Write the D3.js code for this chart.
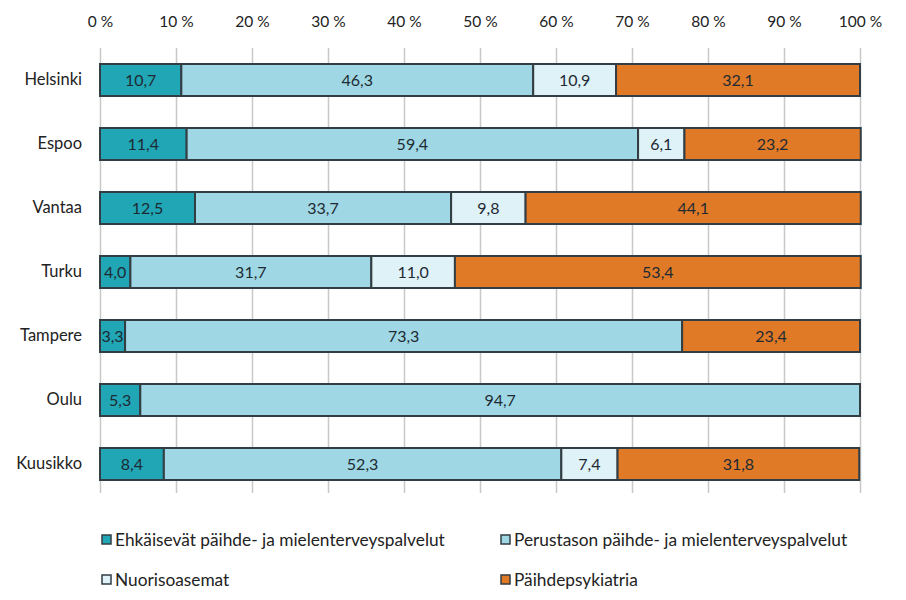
<!DOCTYPE html>
<html><head><meta charset="utf-8">
<script src="https://cdn.jsdelivr.net/npm/d3@7"></script>
<style>body{margin:0;background:#fff}text{font-family:Lato,"Open Sans",sans-serif}</style>
</head><body><svg id="c" width="906" height="600"></svg>
<script>
const categories = ["Helsinki","Espoo","Vantaa","Turku","Tampere","Oulu","Kuusikko"];
const seriesNames = ["Ehkäisevät päihde- ja mielenterveyspalvelut","Perustason päihde- ja mielenterveyspalvelut","Nuorisoasemat","Päihdepsykiatria"];
const ehkaisevat = [10.7,11.4,12.5,4.0,3.3,5.3,8.4];
const perustason = [46.3,59.4,33.7,31.7,73.3,94.7,52.3];
const nuorisoasemat = [10.9,6.1,9.8,11.0,0,0,7.4];
const paihdepsykiatria = [32.1,23.2,44.1,53.4,23.4,0,31.8];
const colors = ["#20a6b4","#9fd8e4","#def2f7","#e07a27"];
const tickValues = [0,10,20,30,40,50,60,70,80,90,100];

const svg = d3.select("#c");
const x = d3.scaleLinear().domain([0,100]).range([100,860]);
const y = d3.scaleBand().domain(categories).range([48,496]).paddingInner(0.5).paddingOuter(0.25);

const seriesVals = [ehkaisevat,perustason,nuorisoasemat,paihdepsykiatria];
const rows = categories.map((c,i)=>{const o={cat:c}; seriesNames.forEach((s,j)=>o[s]=seriesVals[j][i]); return o;});
const stack = d3.stack().keys(seriesNames)(rows);

// grid
svg.append("g").selectAll("line").data(tickValues).join("line")
  .attr("x1",d=>x(d)+0.5).attr("x2",d=>x(d)+0.5).attr("y1",48).attr("y2",493)
  .attr("stroke","#c8c8c8").attr("stroke-width",1.5);

// top axis
const ax = svg.append("g").attr("transform","translate(0,30)")
  .call(d3.axisTop(x).tickValues(tickValues).tickSize(0).tickFormat(d=>d+" %"));
ax.select(".domain").remove();
ax.selectAll("text").attr("font-size",15.5).attr("fill","#222").attr("font-family","Lato,sans-serif");

// y labels
const ay = svg.append("g").attr("transform","translate(82,0)")
  .call(d3.axisLeft(y).tickSize(0).tickPadding(0));
ay.select(".domain").remove();
ay.selectAll("text").attr("font-size",16.5).attr("fill","#222").attr("font-family","Lato,sans-serif");

// bars
stack.forEach((s,j)=>{
  const g = svg.append("g");
  s.forEach((d,i)=>{
    const w = x(d[1])-x(d[0]);
    if (w<=0) return;
    g.append("rect").attr("x",x(d[0])).attr("y",y(categories[i])).attr("width",w).attr("height",y.bandwidth())
      .attr("fill",colors[j]).attr("stroke","#333d44").attr("stroke-width",2);
  });
  s.forEach((d,i)=>{
    const v = d[1]-d[0];
    if (v<=0) return;
    g.append("text").attr("x",(x(d[0])+x(d[1]))/2).attr("y",y(categories[i])+y.bandwidth()/2)
      .attr("dy","0.36em").attr("text-anchor","middle").attr("font-size",16).attr("fill","#1e2a33")
      .text(d3.format(".1f")(v).replace(".",","));
  });
});

// legend
const legPos = [[101,540],[500,540],[101,580],[500,580]];
seriesNames.forEach((s,j)=>{
  const g = svg.append("g").attr("transform",`translate(${legPos[j][0]},${legPos[j][1]})`);
  g.append("rect").attr("x",1).attr("y",-5).attr("width",9).attr("height",9).attr("fill",colors[j]).attr("stroke","#333d44").attr("stroke-width",1.5);
  g.append("text").attr("x",14).attr("y",0).attr("dy","0.36em").attr("font-size",17.3).attr("fill","#222").text(s);
});
</script></body></html>
